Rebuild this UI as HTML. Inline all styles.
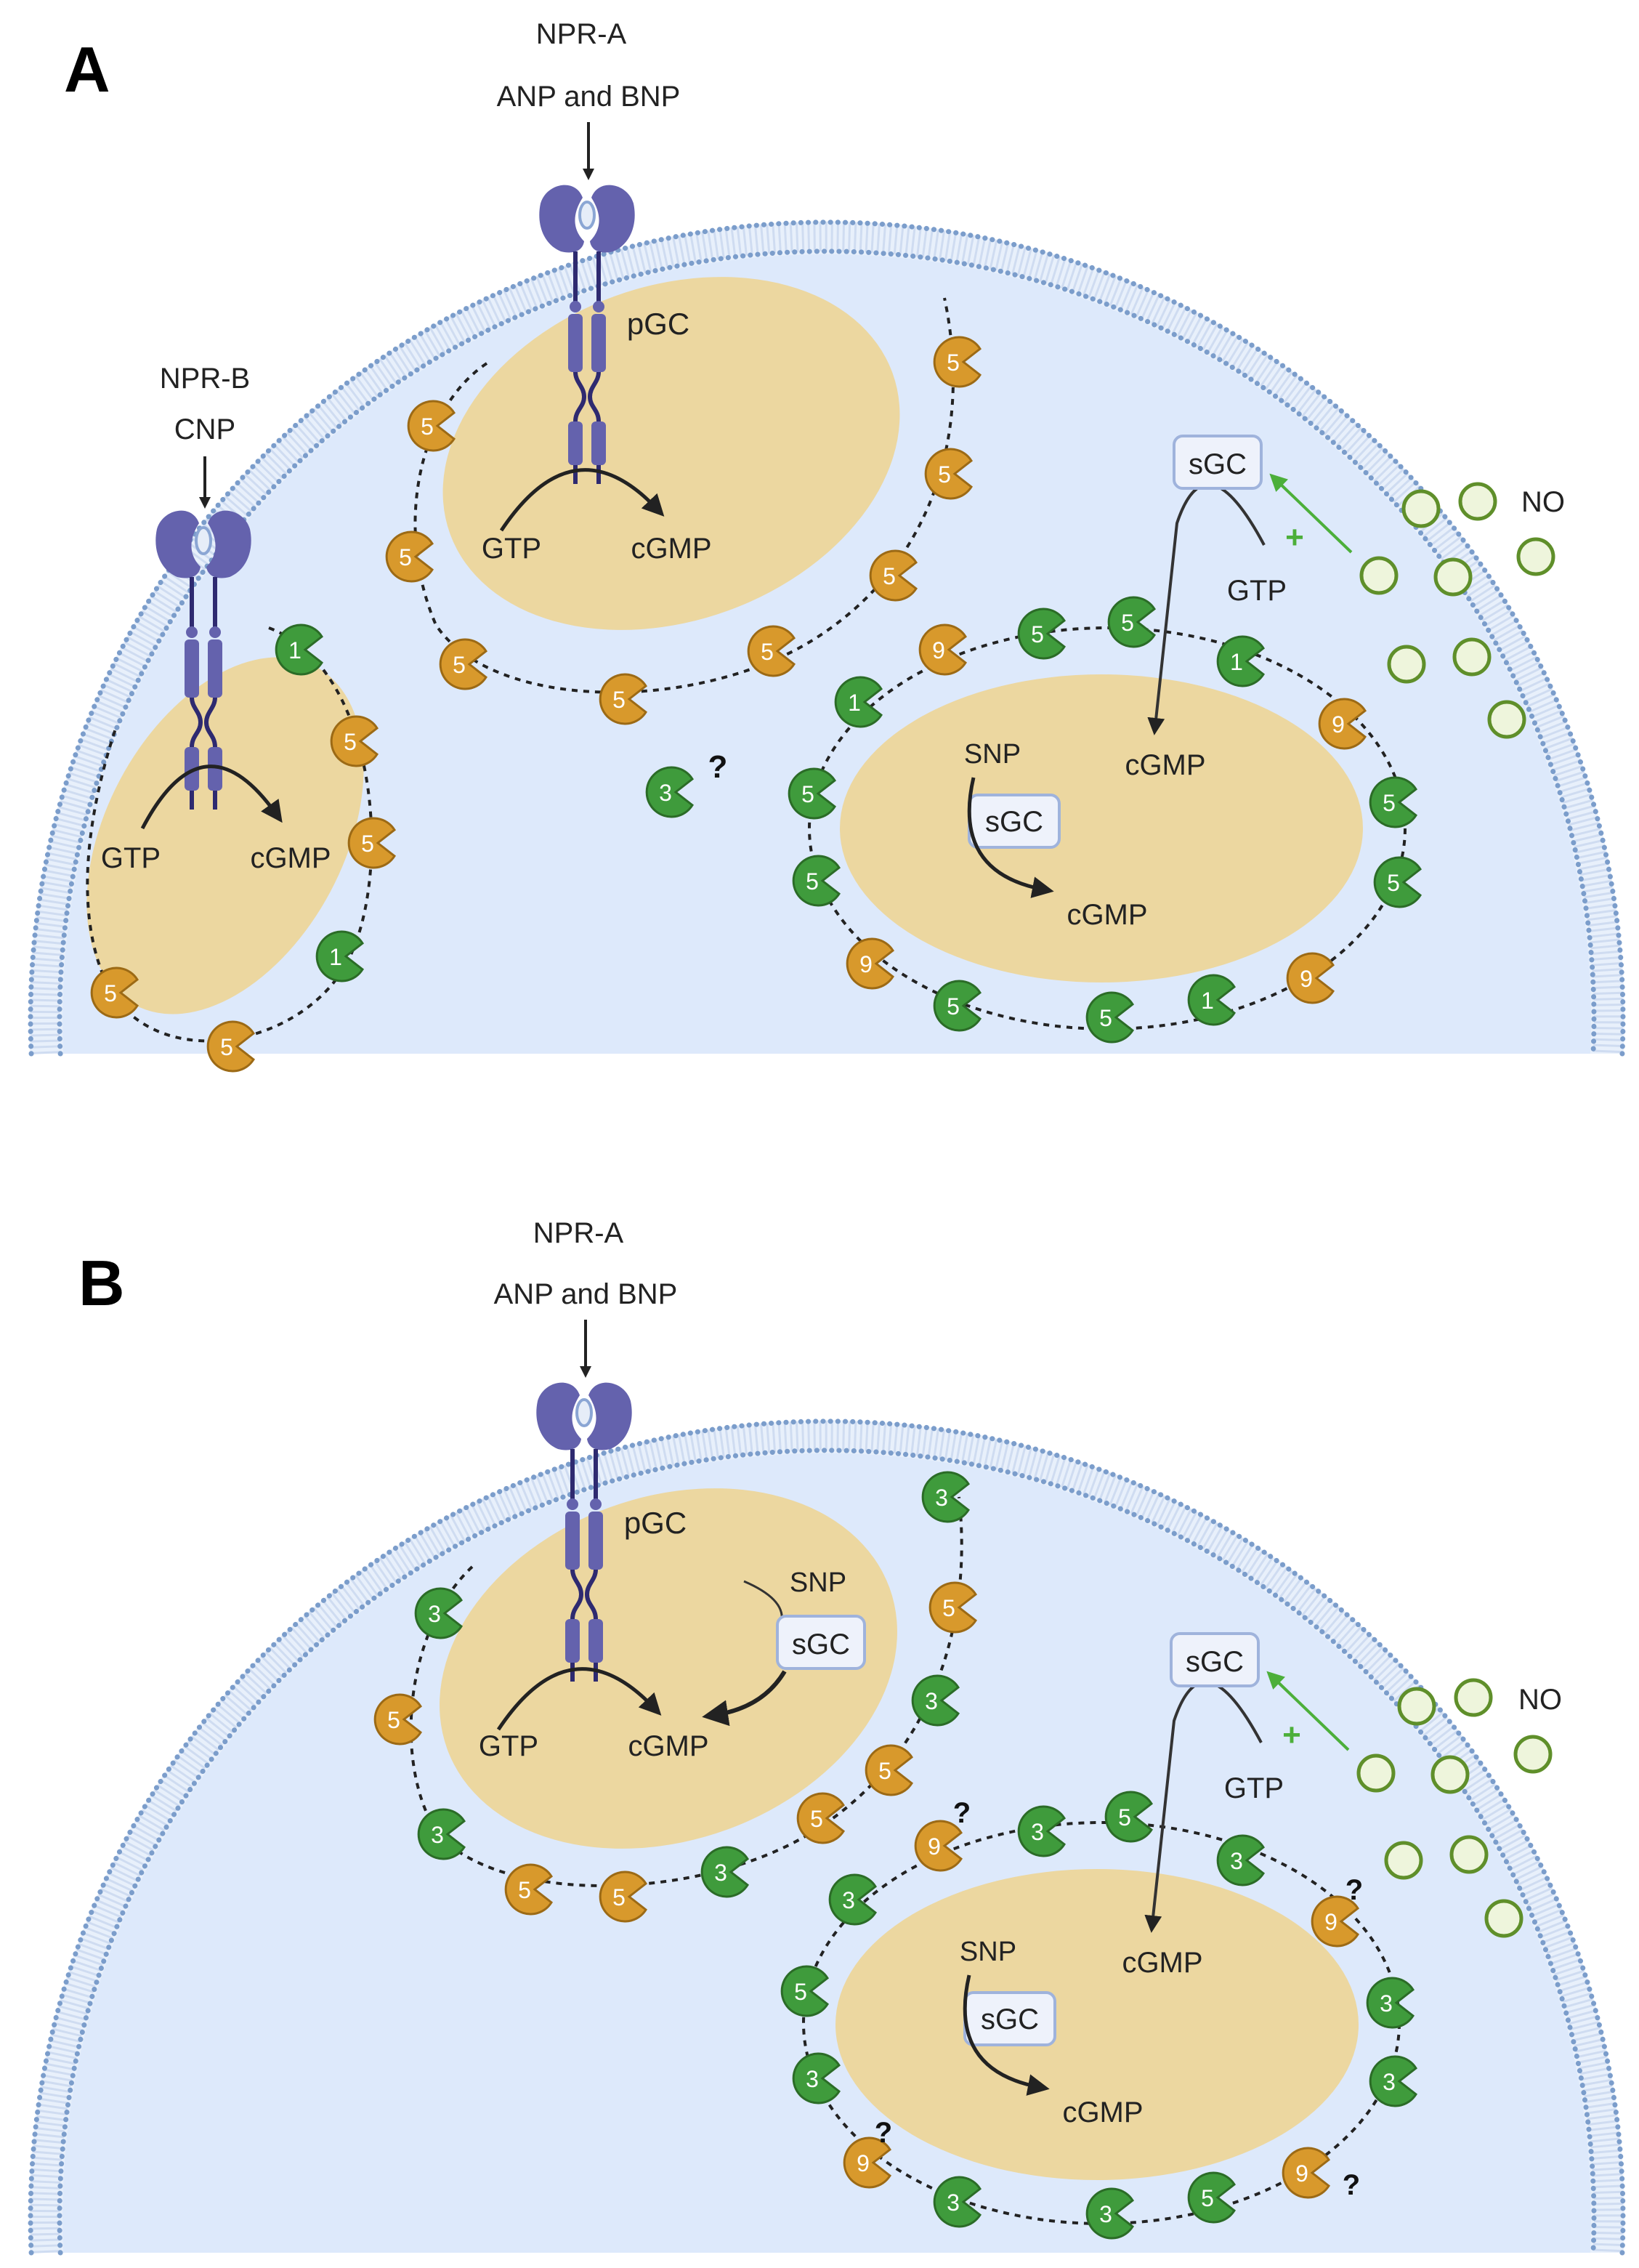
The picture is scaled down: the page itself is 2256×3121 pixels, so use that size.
<!DOCTYPE html>
<html><head><meta charset="utf-8"><style>
html,body{margin:0;padding:0;background:#fff;width:2256px;height:3121px;overflow:hidden}
svg{display:block;position:absolute;left:0;top:0}
text{font-family:"Liberation Sans",sans-serif}
</style></head><body>
<svg width="2256" height="3121" viewBox="0 0 1128 1560.5" xmlns="http://www.w3.org/2000/svg">
<defs>
<path id="pac" d="M3,0 L14.5,-9 A17,17 0 1 0 14.5,9 Z"/>
<g id="pg"><use href="#pac" fill="#3f9b3c" stroke="#2b6c27" stroke-width="1.5"/></g>
<g id="po"><use href="#pac" fill="#d8992c" stroke="#9c6a15" stroke-width="1.5"/></g>
<marker id="ah" viewBox="0 0 10 10" refX="5" refY="5" markerWidth="4" markerHeight="4" orient="auto"><path d="M0,0 L10,5 L0,10 Z" fill="#222"/></marker>
<marker id="ah2" viewBox="0 0 10 10" refX="5" refY="5" markerWidth="6" markerHeight="6" orient="auto"><path d="M0,0 L10,5 L0,10 Z" fill="#222"/></marker>
<marker id="ahg" viewBox="0 0 10 10" refX="5" refY="5" markerWidth="6" markerHeight="6" orient="auto"><path d="M0,0 L10,5 L0,10 Z" fill="#4caf3a"/></marker>
<g id="rec">
 <path d="M-3,8 C-8,-6 -28,-2 -32,12 C-35,26 -30,40 -18,45 C-10,47 -3,45 -2,38 C-8,32 -12,22 -3,8 Z" fill="#6462ad"/>
 <path d="M3,8 C8,-6 28,-2 32,12 C35,26 30,40 18,45 C10,47 3,45 2,38 C8,32 12,22 3,8 Z" fill="#6462ad"/>
 <ellipse cx="0" cy="20" rx="5" ry="9" fill="#e6edf8" stroke="#8ba6d4" stroke-width="2"/>
 <g stroke="#2e2a70" stroke-width="3" fill="none">
  <path d="M-8,45 V80 M8,45 V80"/>
  <path d="M-8,128 C-8,135 -2,138 -2,145 C-2,152 -8,154 -8,162 M8,128 C8,135 2,138 2,145 C2,152 8,154 8,162"/>
  <path d="M-8,190 V205 M8,190 V205"/>
 </g>
 <circle cx="-8" cy="83" r="4" fill="#6462ad"/><circle cx="8" cy="83" r="4" fill="#6462ad"/>
 <rect x="-13" y="88" width="10" height="40" rx="3" fill="#6462ad"/><rect x="3" y="88" width="10" height="40" rx="3" fill="#6462ad"/>
 <rect x="-13" y="162" width="10" height="30" rx="3" fill="#6462ad"/><rect x="3" y="162" width="10" height="30" rx="3" fill="#6462ad"/>
</g>
<g id="cell">
 <path d="M20.52,24 A549,549 0 1 1 1117.48,24 Z" fill="#e8f0fb"/>
 <path d="M31.54,24 A538,538 0 1 1 1106.46,24" fill="none" stroke="#cfdcf1" stroke-width="20" stroke-dasharray="1.5 2.5"/>
 <path d="M21.53,24 A548,548 0 1 1 1116.47,24" fill="none" stroke="#7b9dcb" stroke-width="3.5" stroke-linecap="round" stroke-dasharray="0.1 5"/>
 <path d="M41.55,24 A528,528 0 1 1 1096.45,24" fill="none" stroke="#7b9dcb" stroke-width="3.5" stroke-linecap="round" stroke-dasharray="0.1 5"/>
 <path d="M43.55,24 A526,526 0 1 1 1094.45,24 Z" fill="#dde9fb"/>
</g>
<g id="no"><circle r="12" fill="#eef5dc" stroke="#5f8f2a" stroke-width="2.5"/></g>
</defs>

<use href="#cell" transform="translate(0,701)"/>
<text x="44" y="63" font-size="44" font-weight="bold">A</text>
<ellipse cx="462" cy="312" rx="162" ry="115" transform="rotate(-20 462 312)" fill="#ecd7a0"/>
<ellipse cx="155" cy="575" rx="82" ry="132" transform="rotate(28 155 575)" fill="#ecd7a0"/>
<ellipse cx="758" cy="570" rx="180" ry="106" fill="#ecd7a0"/>
<g fill="none" stroke="#222" stroke-width="2" stroke-dasharray="4 4">
 <path d="M335,250 C290,280 270,360 300,430 C340,490 480,490 560,440 C640,390 670,300 650,205"/>
 <path d="M185,432 C260,460 270,600 240,660 C210,720 110,740 75,680 C50,630 60,560 80,500"/>
 <ellipse cx="762" cy="570" rx="205" ry="138"/>
</g>
<use href="#rec" transform="translate(404,128)"/>
<use href="#rec" transform="translate(140,352)"/>
<text x="400" y="30" font-size="20" text-anchor="middle" fill="#222">NPR-A</text>
<text x="405" y="73" font-size="20" text-anchor="middle" fill="#222">ANP and BNP</text>
<line x1="405" y1="84" x2="405" y2="120" stroke="#222" stroke-width="2" marker-end="url(#ah)"/>
<text x="141" y="267" font-size="20" text-anchor="middle" fill="#222">NPR-B</text>
<text x="141" y="302" font-size="20" text-anchor="middle" fill="#222">CNP</text>
<line x1="141" y1="314" x2="141" y2="346" stroke="#222" stroke-width="2" marker-end="url(#ah)"/>
<text x="453" y="230" font-size="21" text-anchor="middle" fill="#222">pGC</text>
<path d="M345,365 Q395,290 452,350" fill="none" stroke="#222" stroke-width="2.5" marker-end="url(#ah2)"/>
<text x="352" y="384" font-size="20" text-anchor="middle" fill="#222">GTP</text>
<text x="462" y="384" font-size="20" text-anchor="middle" fill="#222">cGMP</text>
<path d="M98,570 Q140,490 190,560" fill="none" stroke="#222" stroke-width="2.5" marker-end="url(#ah2)"/>
<text x="90" y="597" font-size="20" text-anchor="middle" fill="#222">GTP</text>
<text x="200" y="597" font-size="20" text-anchor="middle" fill="#222">cGMP</text>
<text x="683" y="525" font-size="19" text-anchor="middle" fill="#222">SNP</text>
<rect x="667" y="547" width="62" height="36" rx="6" fill="#eef2fb" stroke="#9fb3dc" stroke-width="2"/>
<text x="698" y="572" font-size="20" text-anchor="middle" fill="#222">sGC</text>
<path d="M670,535 Q655,600 718,612" fill="none" stroke="#222" stroke-width="2.5" marker-end="url(#ah2)"/>
<text x="762" y="636" font-size="20" text-anchor="middle" fill="#222">cGMP</text>
<text x="802" y="533" font-size="20" text-anchor="middle" fill="#222">cGMP</text>
<path d="M870,375 Q830,300 810,360 L795,500" fill="none" stroke="#333" stroke-width="2" marker-end="url(#ah2)"/>
<text x="865" y="413" font-size="20" text-anchor="middle" fill="#222">GTP</text>
<rect x="808" y="300" width="60" height="36" rx="6" fill="#eef2fb" stroke="#9fb3dc" stroke-width="2"/>
<text x="838" y="326" font-size="20" text-anchor="middle" fill="#222">sGC</text>
<line x1="930" y1="380" x2="878" y2="330" stroke="#4caf3a" stroke-width="2" marker-end="url(#ahg)"/>
<text x="891" y="377" font-size="22" font-weight="bold" fill="#4caf3a" text-anchor="middle">+</text>
<text x="1062" y="352" font-size="20" text-anchor="middle" fill="#222">NO</text>
<g>
<use href="#no" x="978" y="350"/><use href="#no" x="1017" y="345"/><use href="#no" x="1057" y="383"/><use href="#no" x="949" y="396"/><use href="#no" x="1000" y="397"/><use href="#no" x="968" y="457"/><use href="#no" x="1013" y="452"/><use href="#no" x="1037" y="495"/>
</g>
<g font-size="16" fill="#fff" text-anchor="middle">
<use href="#po" x="298" y="293"/><text x="294" y="299">5</text>
<use href="#po" x="283" y="383"/><text x="279" y="389">5</text>
<use href="#po" x="320" y="457"/><text x="316" y="463">5</text>
<use href="#po" x="430" y="481"/><text x="426" y="487">5</text>
<use href="#po" x="532" y="448"/><text x="528" y="454">5</text>
<use href="#po" x="616" y="396"/><text x="612" y="402">5</text>
<use href="#po" x="654" y="326"/><text x="650" y="332">5</text>
<use href="#po" x="660" y="249"/><text x="656" y="255">5</text>
<use href="#pg" x="207" y="447"/><text x="203" y="453">1</text>
<use href="#po" x="245" y="510"/><text x="241" y="516">5</text>
<use href="#po" x="257" y="580"/><text x="253" y="586">5</text>
<use href="#pg" x="235" y="658"/><text x="231" y="664">1</text>
<use href="#po" x="160" y="720"/><text x="156" y="726">5</text>
<use href="#po" x="80" y="683"/><text x="76" y="689">5</text>
<use href="#pg" x="462" y="545"/><text x="458" y="551">3</text>
<use href="#po" x="650" y="447"/><text x="646" y="453">9</text>
<use href="#pg" x="718" y="436"/><text x="714" y="442">5</text>
<use href="#pg" x="780" y="428"/><text x="776" y="434">5</text>
<use href="#pg" x="855" y="455"/><text x="851" y="461">1</text>
<use href="#po" x="925" y="498"/><text x="921" y="504">9</text>
<use href="#pg" x="960" y="552"/><text x="956" y="558">5</text>
<use href="#pg" x="963" y="607"/><text x="959" y="613">5</text>
<use href="#po" x="903" y="673"/><text x="899" y="679">9</text>
<use href="#pg" x="835" y="688"/><text x="831" y="694">1</text>
<use href="#pg" x="765" y="700"/><text x="761" y="706">5</text>
<use href="#pg" x="660" y="692"/><text x="656" y="698">5</text>
<use href="#po" x="600" y="663"/><text x="596" y="669">9</text>
<use href="#pg" x="563" y="606"/><text x="559" y="612">5</text>
<use href="#pg" x="560" y="546"/><text x="556" y="552">5</text>
<use href="#pg" x="592" y="483"/><text x="588" y="489">1</text>
</g>
<text x="494" y="535" font-size="22" font-weight="bold" fill="#111" text-anchor="middle">?</text>

<use href="#cell" transform="translate(0,1526)"/>
<text x="54" y="898" font-size="44" font-weight="bold">B</text>
<ellipse cx="460" cy="1148" rx="162" ry="118" transform="rotate(-20 460 1148)" fill="#ecd7a0"/>
<ellipse cx="755" cy="1393" rx="180" ry="107" fill="#ecd7a0"/>
<g fill="none" stroke="#222" stroke-width="2" stroke-dasharray="4 4">
 <path d="M325,1078 C280,1120 270,1210 300,1260 C340,1310 480,1310 560,1260 C640,1210 670,1120 660,1030"/>
 <ellipse cx="758" cy="1392" rx="205" ry="138"/>
</g>
<use href="#rec" transform="translate(402,952)"/>
<text x="398" y="855" font-size="20" text-anchor="middle" fill="#222">NPR-A</text>
<text x="403" y="897" font-size="20" text-anchor="middle" fill="#222">ANP and BNP</text>
<line x1="403" y1="908" x2="403" y2="944" stroke="#222" stroke-width="2" marker-end="url(#ah)"/>
<text x="451" y="1055" font-size="21" text-anchor="middle" fill="#222">pGC</text>
<path d="M343,1190 Q393,1115 450,1175" fill="none" stroke="#222" stroke-width="2.5" marker-end="url(#ah2)"/>
<text x="350" y="1208" font-size="20" text-anchor="middle" fill="#222">GTP</text>
<text x="460" y="1208" font-size="20" text-anchor="middle" fill="#222">cGMP</text>
<text x="563" y="1095" font-size="19" text-anchor="middle" fill="#222">SNP</text>
<path d="M512,1088 Q540,1100 538,1115" fill="none" stroke="#333" stroke-width="1.5"/>
<rect x="535" y="1112" width="60" height="36" rx="6" fill="#eef2fb" stroke="#9fb3dc" stroke-width="2"/>
<text x="565" y="1138" font-size="20" text-anchor="middle" fill="#222">sGC</text>
<path d="M540,1150 Q525,1175 492,1180" fill="none" stroke="#222" stroke-width="3" marker-end="url(#ah2)"/>
<text x="680" y="1349" font-size="19" text-anchor="middle" fill="#222">SNP</text>
<rect x="664" y="1371" width="62" height="36" rx="6" fill="#eef2fb" stroke="#9fb3dc" stroke-width="2"/>
<text x="695" y="1396" font-size="20" text-anchor="middle" fill="#222">sGC</text>
<path d="M667,1359 Q652,1424 715,1436" fill="none" stroke="#222" stroke-width="2.5" marker-end="url(#ah2)"/>
<text x="759" y="1460" font-size="20" text-anchor="middle" fill="#222">cGMP</text>
<text x="800" y="1357" font-size="20" text-anchor="middle" fill="#222">cGMP</text>
<path d="M868,1199 Q828,1124 808,1184 L793,1324" fill="none" stroke="#333" stroke-width="2" marker-end="url(#ah2)"/>
<text x="863" y="1237" font-size="20" text-anchor="middle" fill="#222">GTP</text>
<rect x="806" y="1124" width="60" height="36" rx="6" fill="#eef2fb" stroke="#9fb3dc" stroke-width="2"/>
<text x="836" y="1150" font-size="20" text-anchor="middle" fill="#222">sGC</text>
<line x1="928" y1="1204" x2="876" y2="1154" stroke="#4caf3a" stroke-width="2" marker-end="url(#ahg)"/>
<text x="889" y="1201" font-size="22" font-weight="bold" fill="#4caf3a" text-anchor="middle">+</text>
<text x="1060" y="1176" font-size="20" text-anchor="middle" fill="#222">NO</text>
<g>
<use href="#no" x="975" y="1174"/><use href="#no" x="1014" y="1168"/><use href="#no" x="1055" y="1207"/><use href="#no" x="947" y="1220"/><use href="#no" x="998" y="1221"/><use href="#no" x="966" y="1280"/><use href="#no" x="1011" y="1276"/><use href="#no" x="1035" y="1320"/>
</g>
<g font-size="16" fill="#fff" text-anchor="middle">
<use href="#pg" x="303" y="1110"/><text x="299" y="1116">3</text>
<use href="#po" x="275" y="1183"/><text x="271" y="1189">5</text>
<use href="#pg" x="305" y="1262"/><text x="301" y="1268">3</text>
<use href="#po" x="365" y="1300"/><text x="361" y="1306">5</text>
<use href="#po" x="430" y="1305"/><text x="426" y="1311">5</text>
<use href="#pg" x="500" y="1288"/><text x="496" y="1294">3</text>
<use href="#po" x="566" y="1251"/><text x="562" y="1257">5</text>
<use href="#po" x="613" y="1218"/><text x="609" y="1224">5</text>
<use href="#pg" x="645" y="1170"/><text x="641" y="1176">3</text>
<use href="#po" x="657" y="1106"/><text x="653" y="1112">5</text>
<use href="#pg" x="652" y="1030"/><text x="648" y="1036">3</text>
<use href="#po" x="647" y="1270"/><text x="643" y="1276">9</text>
<use href="#pg" x="718" y="1260"/><text x="714" y="1266">3</text>
<use href="#pg" x="778" y="1250"/><text x="774" y="1256">5</text>
<use href="#pg" x="855" y="1280"/><text x="851" y="1286">3</text>
<use href="#po" x="920" y="1322"/><text x="916" y="1328">9</text>
<use href="#pg" x="958" y="1378"/><text x="954" y="1384">3</text>
<use href="#pg" x="960" y="1432"/><text x="956" y="1438">3</text>
<use href="#po" x="900" y="1495"/><text x="896" y="1501">9</text>
<use href="#pg" x="835" y="1512"/><text x="831" y="1518">5</text>
<use href="#pg" x="765" y="1523"/><text x="761" y="1529">3</text>
<use href="#pg" x="660" y="1515"/><text x="656" y="1521">3</text>
<use href="#po" x="598" y="1488"/><text x="594" y="1494">9</text>
<use href="#pg" x="563" y="1430"/><text x="559" y="1436">3</text>
<use href="#pg" x="555" y="1370"/><text x="551" y="1376">5</text>
<use href="#pg" x="588" y="1307"/><text x="584" y="1313">3</text>
</g>
<g font-size="20" font-weight="bold" fill="#111" text-anchor="middle">
<text x="662" y="1254">?</text><text x="932" y="1307">?</text><text x="930" y="1510">?</text><text x="608" y="1474">?</text>
</g>
</svg>
</body></html>
